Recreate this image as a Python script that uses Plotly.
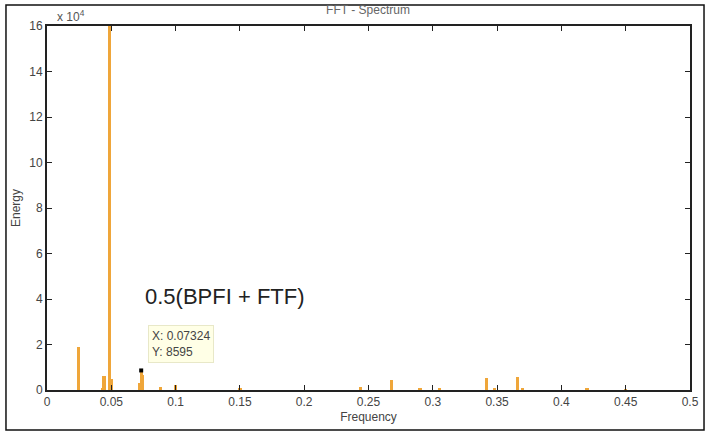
import plotly.graph_objects as go

# Spectrum peaks (frequency, energy)
freq = [0.0244, 0.0430, 0.0444, 0.0488, 0.0503, 0.0720, 0.07324, 0.0745, 0.0880,
        0.1000, 0.1500, 0.2440, 0.2680, 0.2900, 0.3050, 0.3420, 0.3480, 0.3660,
        0.3700, 0.4200, 0.4500]
energy = [19000, 900, 6000, 160000, 5000, 3000, 8595, 6500, 1200,
          2000, 600, 1300, 4500, 900, 700, 5200, 800, 5800,
          900, 500, 400]

tip_x = 0.07324
tip_y = 8595

ytick_vals = [0, 20000, 40000, 60000, 80000, 100000, 120000, 140000, 160000]
ytick_text = ["0", "2", "4", "6", "8", "10", "12", "14", "16"]
xtick_vals = [0, 0.05, 0.1, 0.15, 0.2, 0.25, 0.3, 0.35, 0.4, 0.45, 0.5]
xtick_text = ["0", "0.05", "0.1", "0.15", "0.2", "0.25", "0.3", "0.35", "0.4", "0.45", "0.5"]

fig = go.Figure()
fig.add_trace(go.Bar(x=freq, y=energy, width=0.0026,
                     marker=dict(color="#EFA63A", line=dict(width=0)),
                     showlegend=False))
fig.add_trace(go.Scatter(x=[tip_x], y=[tip_y], mode="markers",
                         marker=dict(symbol="square", size=4, color="black"),
                         showlegend=False))

fig.update_layout(
    width=705, height=432,
    margin=dict(l=47, r=15, t=26, b=42, autoexpand=False),
    paper_bgcolor="white", plot_bgcolor="white",
    font=dict(family="Liberation Sans, Arial, sans-serif", size=12, color="#444"),
    bargap=0,
    title=dict(text="FFT - Spectrum", x=0.522, xanchor="center", y=0.977, yanchor="middle",
               font=dict(size=12, color="#666")),
    xaxis=dict(range=[0, 0.5], tickvals=xtick_vals, ticktext=xtick_text,
               ticks="inside", ticklen=5, tickcolor="#222", showline=True,
               linecolor="#222", linewidth=2, mirror="ticks", showgrid=False,
               zeroline=False, automargin=False,
               title=dict(text="Frequency", standoff=4,
                          font=dict(size=12, color="#444"))),
    yaxis=dict(range=[0, 160000], tickvals=ytick_vals, ticktext=ytick_text,
               ticks="inside", ticklen=5, tickcolor="#222", showline=True,
               linecolor="#222", linewidth=2, mirror="ticks", showgrid=False,
               zeroline=False, automargin=False,
               title=dict(text="Energy", standoff=6,
                          font=dict(size=12, color="#444"))),
)

fig.add_annotation(text="x 10<sup>4</sup>", xref="paper", yref="paper",
                   x=0.012, y=1.0, xanchor="left", yanchor="bottom",
                   showarrow=False, font=dict(size=12, color="#555"))
fig.add_annotation(text="0.5(BPFI + FTF)", xref="x", yref="y",
                   x=0.0745, y=41000, xanchor="left", yanchor="middle",
                   showarrow=False, font=dict(size=22, color="#222"))
fig.add_annotation(text="X: 0.07324<br>Y: 8595", xref="x", yref="y",
                   x=0.0782, y=20300, xanchor="left", yanchor="middle", align="left",
                   showarrow=False, bgcolor="#FFFFE6", bordercolor="#E8E8C8",
                   borderwidth=1, borderpad=3, font=dict(size=12, color="#444"))

# outer frame
fig.add_shape(type="rect", xref="paper", yref="paper",
              x0=-0.0638, x1=1.0218, y0=-0.11, y1=1.0577,
              line=dict(color="#111", width=1.5))

fig.write_html("out.html")
